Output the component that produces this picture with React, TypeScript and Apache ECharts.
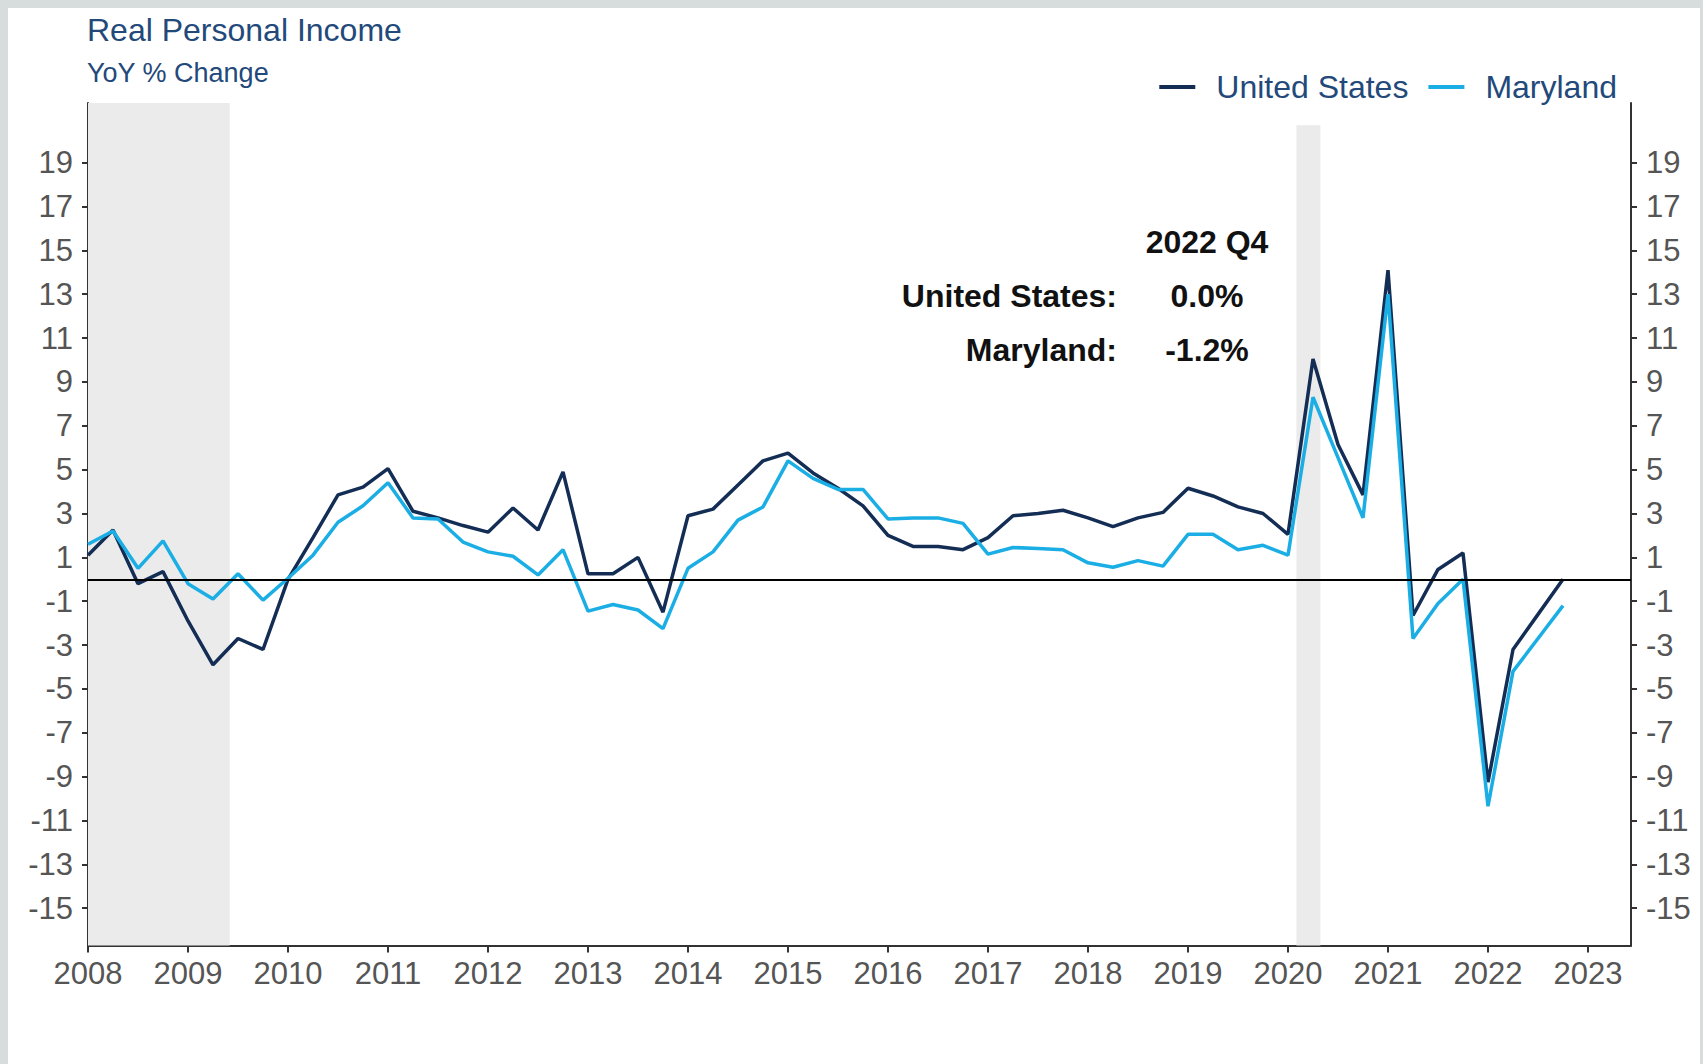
import React, { useEffect, useRef } from "react";
import * as echarts from "echarts";

// ---------- data ----------
const years = [2008, 2009, 2010, 2011, 2012, 2013, 2014, 2015, 2016, 2017, 2018, 2019, 2020, 2021, 2022];
const quarters = ["Q1", "Q2", "Q3", "Q4"];

const usValues = [
  1.1, 2.25, -0.2, 0.35,
  -1.9, -3.9, -2.7, -3.2,
  0.0, 1.9, 3.85, 4.2,
  5.05, 3.1, 2.8, 2.45,
  2.15, 3.25, 2.25, 4.9,
  0.25, 0.25, 1.0, -1.5,
  2.9, 3.2, 4.3, 5.4,
  5.75, 4.85, 4.15, 3.35,
  2.0, 1.5, 1.5, 1.35,
  1.9, 2.9, 3.0, 3.15,
  2.8, 2.4, 2.8, 3.05,
  4.15, 3.8, 3.3, 3.0,
  2.05, 10.05, 6.15, 3.85,
  14.1, -1.65, 0.45, 1.2,
  -9.25, -3.2, -1.6, 0.0,
];

const mdValues = [
  1.6, 2.2, 0.5, 1.75,
  -0.2, -0.9, 0.25, -0.95,
  0.05, 1.1, 2.6, 3.35,
  4.4, 2.8, 2.75, 1.7,
  1.25, 1.05, 0.2, 1.35,
  -1.45, -1.15, -1.4, -2.25,
  0.5, 1.25, 2.7, 3.3,
  5.4, 4.6, 4.1, 4.1,
  2.75, 2.8, 2.8, 2.55,
  1.15, 1.45, 1.4, 1.35,
  0.75, 0.55, 0.85, 0.6,
  2.05, 2.05, 1.35, 1.55,
  1.1, 8.3, 5.55, 2.8,
  13.0, -2.7, -1.1, 0.0,
  -10.35, -4.2, -2.7, -1.2,
];

const yTickValues = [-15, -13, -11, -9, -7, -5, -3, -1, 1, 3, 5, 7, 9, 11, 13, 15, 17, 19];
const xTickYears = [2008, 2009, 2010, 2011, 2012, 2013, 2014, 2015, 2016, 2017, 2018, 2019, 2020, 2021, 2022, 2023];

// recession periods [start, end] in fractional years
const recessionGFC = [2008, 2009.417];
const recessionCovid = [2020.084, 2020.324];

const seriesNames = ["United States", "Maryland"];
const TITLE = "Real Personal Income";
const SUBTITLE = "YoY % Change";
const annoPeriod = "2022 Q4";
const annoLabels = ["United States:", "Maryland:"];
const annoValues = ["0.0%", "-1.2%"];

// ---------- styling ----------
const FONT = "'Liberation Sans', Arial, Helvetica, sans-serif";
const US_COLOR = "#132d55";
const MD_COLOR = "#1aaee5";
const TITLE_COLOR = "#23497a";
const AXIS_COLOR = "#333333";
const LABEL_COLOR = "#555555";
const Y_MIN = -16.7;
const Y_MAX = 21.72;

const periods: number[] = [];
years.forEach((y) => quarters.forEach((_, qi) => periods.push(y + qi / 4)));

export default function App() {
  const ref = useRef<HTMLDivElement>(null);

  useEffect(() => {
    if (!ref.current) return;
    const chart = echarts.init(ref.current, undefined, { renderer: "svg" });

    const yAxisCommon = {
      type: "value" as const,
      min: Y_MIN,
      max: Y_MAX,
      splitLine: { show: false },
      axisLine: { show: true, onZero: false, lineStyle: { color: AXIS_COLOR, width: 2 } },
      axisTick: { show: true, length: 6, customValues: yTickValues, lineStyle: { color: AXIS_COLOR, width: 2 } },
      axisLabel: {
        customValues: yTickValues,
        fontSize: 31,
        color: LABEL_COLOR,
        fontFamily: FONT,
        margin: 15,
      },
    };

    const option: any = {
      animation: false,
      backgroundColor: "transparent",
      textStyle: { fontFamily: FONT },
      grid: { left: 88, right: 72, top: 103, bottom: 118.5, containLabel: false },
      legend: {
        data: seriesNames,
        right: 81,
        top: 66,
        icon: "rect",
        itemWidth: 36,
        itemHeight: 4,
        itemGap: 20,
        textStyle: { fontSize: 32, color: TITLE_COLOR, fontFamily: FONT, padding: [0, 0, 0, 16] },
      },
      xAxis: {
        type: "value",
        min: 2008,
        max: 2023.43,
        interval: 1,
        splitLine: { show: false },
        axisLine: { show: true, onZero: false, lineStyle: { color: AXIS_COLOR, width: 2 } },
        axisTick: { show: true, length: 7, customValues: xTickYears, lineStyle: { color: AXIS_COLOR, width: 2 } },
        axisLabel: {
          customValues: xTickYears,
          fontSize: 31,
          color: LABEL_COLOR,
          fontFamily: FONT,
          margin: 12,
          formatter: (v: number) => String(v),
        },
      },
      yAxis: [
        { ...yAxisCommon, position: "left" },
        { ...yAxisCommon, position: "right" },
      ],
      series: [
        {
          name: seriesNames[0],
          type: "line",
          yAxisIndex: 0,
          data: periods.map((p, i) => [p, usValues[i]]),
          showSymbol: false,
          symbol: "none",
          lineStyle: { color: US_COLOR, width: 3.5 },
          itemStyle: { color: US_COLOR },
          z: 3,
          markArea: {
            silent: true,
            itemStyle: { color: "#ebebeb" },
            data: [
              [{ xAxis: recessionGFC[0] }, { xAxis: recessionGFC[1] }],
              [
                { xAxis: recessionCovid[0], yAxis: 20.7 },
                { xAxis: recessionCovid[1], yAxis: Y_MIN },
              ],
            ],
          },
          markLine: {
            silent: true,
            symbol: "none",
            label: { show: false },
            lineStyle: { color: "#000000", width: 2, type: "solid" },
            data: [{ yAxis: 0 }],
          },
        },
        {
          name: seriesNames[1],
          type: "line",
          yAxisIndex: 0,
          data: periods.map((p, i) => [p, mdValues[i]]),
          showSymbol: false,
          symbol: "none",
          lineStyle: { color: MD_COLOR, width: 3.5 },
          itemStyle: { color: MD_COLOR },
          z: 4,
        },
      ],
      graphic: [
        {
          type: "text",
          left: 87,
          top: 14,
          style: { text: TITLE, fontSize: 32, fill: TITLE_COLOR, fontFamily: FONT },
        },
        {
          type: "text",
          left: 87,
          top: 59,
          style: { text: SUBTITLE, fontSize: 27, fill: TITLE_COLOR, fontFamily: FONT },
        },
        {
          type: "text",
          x: 1207,
          y: 242,
          style: { text: annoPeriod, fontSize: 32, fontWeight: "bold", fill: "#111111", fontFamily: FONT, align: "center", verticalAlign: "middle" },
        },
        ...annoLabels.map((lab, i) => ({
          type: "text",
          x: 1117,
          y: 296 + i * 54,
          style: { text: lab, fontSize: 32, fontWeight: "bold", fill: "#111111", fontFamily: FONT, align: "right", verticalAlign: "middle" },
        })),
        ...annoValues.map((val, i) => ({
          type: "text",
          x: 1207,
          y: 296 + i * 54,
          style: { text: val, fontSize: 32, fontWeight: "bold", fill: "#111111", fontFamily: FONT, align: "center", verticalAlign: "middle" },
        })),
      ],
    };

    chart.setOption(option);
    return () => chart.dispose();
  }, []);

  return (
    <div style={{ position: "fixed", left: 0, top: 0, width: 1703, height: 1064, background: "#d7dddc", overflow: "hidden" }}>
      <div style={{ position: "absolute", left: 8, top: 8, right: 3, bottom: 0, background: "#ffffff" }} />
      <div ref={ref} style={{ position: "absolute", left: 0, top: 0, width: 1703, height: 1064 }} />
    </div>
  );
}
